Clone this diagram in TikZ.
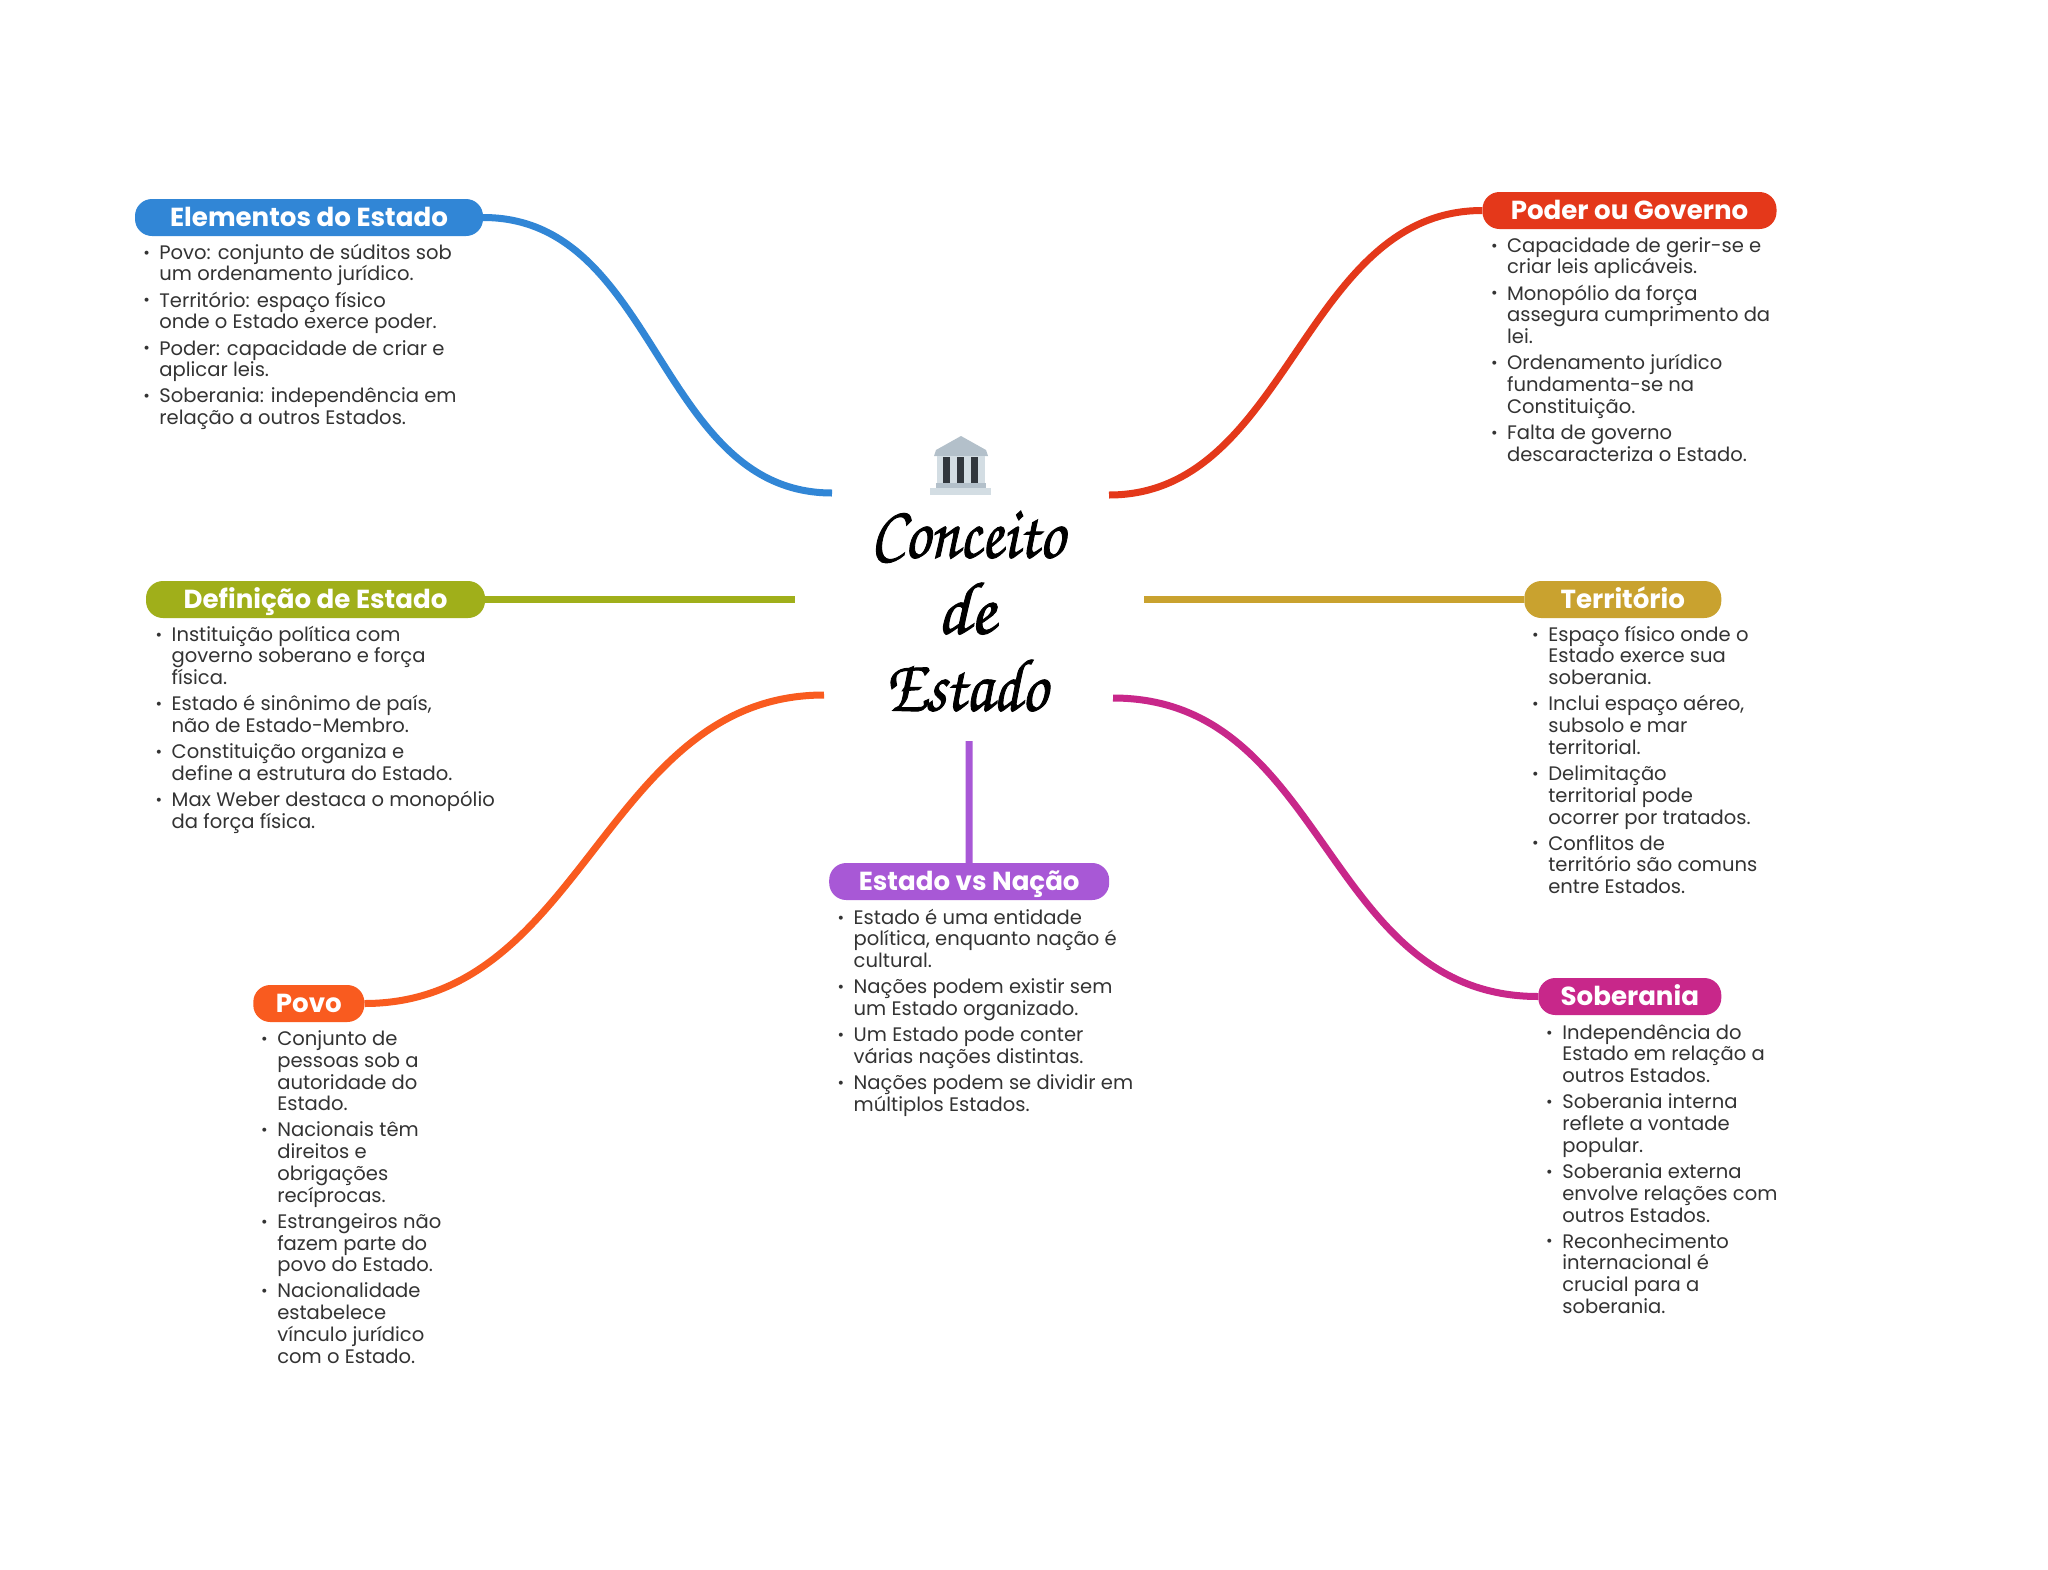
\documentclass[tikz,border=0pt]{standalone}
\usepackage{fontspec}
\setmainfont{Poppins}
\newfontfamily\scriptf[FakeBold=1.3]{TeX Gyre Chorus}
\definecolor{cBlue}{HTML}{3186D6}
\definecolor{cRed}{HTML}{E4381A}
\definecolor{cOlive}{HTML}{A0AF1A}
\definecolor{cGold}{HTML}{C9A22F}
\definecolor{cOrange}{HTML}{F95B1F}
\definecolor{cPurple}{HTML}{A858D6}
\definecolor{cMagenta}{HTML}{C8278A}
\definecolor{cText}{HTML}{333333}
\definecolor{cRoof}{HTML}{B3C0CA}
\definecolor{cStone}{HTML}{D3DDE3}
\definecolor{cCol}{HTML}{31373D}
\newcommand{\bul}{\makebox[15.7pt][l]{\hspace*{-0.4pt}\raisebox{1.2pt}{\fontsize{16}{16}\selectfont •}}}
\newcommand{\itm}[1]{\rule{0pt}{16pt}\bul#1}
\newcommand{\cnt}[1]{\hspace*{15.7pt}#1}
\newcommand{\gapp}{\\[4.4pt]}
\tikzset{x=1pt,y=-1pt,
  pill/.style={fill=#1,rounded corners=17pt,inner sep=0pt,minimum height=37pt,text=white,
    text height=21.3pt,text depth=3.1pt,
    font=\fontsize{26.1}{30}\selectfont\bfseries},
  blist/.style={anchor=north west,inner sep=0pt,align=left,text=cText,
    font=\fontsize{19.55}{21.75}\selectfont},
  link/.style={draw=#1,line width=7pt},
  titleline/.style={inner sep=0pt,anchor=base,font=\fontsize{75}{75}\selectfont\scriptf}}
\begin{document}
\begin{tikzpicture}
\useasboundingbox[fill=white] (0,0) rectangle (2048,1569);
% hub ends
\coordinate (hElem) at (832,493);
\coordinate (hPoder) at (1109,495);
\coordinate (hDefi) at (795,599.5);
\coordinate (hTerr) at (1144,599.5);
\coordinate (hPovo) at (824,695);
\coordinate (hSobe) at (1113,698);
\coordinate (hEvn) at (969,741);
% pills
\node[pill=cBlue,minimum width=348pt] (elem) at (309,217.5) {Elementos do Estado};
\node[pill=cRed,minimum width=294pt] (poder) at (1629.5,210.5) {Poder ou Governo};
\node[pill=cOlive,minimum width=339pt] (defi) at (315.5,599.5) {Definição de Estado};
\node[pill=cGold,minimum width=197pt] (terr) at (1622.8,599.5) {Território};
\node[pill=cOrange,minimum width=111pt] (povo) at (308.8,1003.5) {Povo};
\node[pill=cPurple,minimum width=280pt] (evn) at (969.2,881.5) {Estado vs Nação};
\node[pill=cMagenta,minimum width=183pt] (sobe) at (1629.8,996.5) {Soberania};
% connectors
\draw[link=cBlue] (elem.east) .. controls +(175,0) and +(-175,0) .. (hElem);
\draw[link=cRed] (poder.west) .. controls +(-180,0) and +(180,0) .. (hPoder);
\draw[link=cOlive] (defi.east) -- (hDefi);
\draw[link=cGold] (terr.west) -- (hTerr);
\draw[link=cOrange] (povo.east) .. controls +(220,0) and +(-220,0) .. (hPovo);
\draw[link=cMagenta] (sobe.west) .. controls +(-215,0) and +(215,0) .. (hSobe);
\draw[link=cPurple] (evn.north) -- (hEvn);
% central icon
\fill[cRoof] (961,436) -- (986,450) -- (988,456) -- (934,456) -- (936,450) -- cycle;
\fill[cStone] (937,456) rectangle (985,484);
\fill[cCol] (943,457) rectangle (950,483);
\fill[cCol] (957,457) rectangle (964,483);
\fill[cCol] (971,457) rectangle (978,483);
\fill[cRoof] (936,483) rectangle (986,488);
\fill[cStone] (930,488) rectangle (991,495);
% central title
\node[titleline] (t1) at (967.5,557.5) {\scalebox{0.855}[1]{Conceito}};
\node[titleline] (t2) at (966,633.5) {\scalebox{1}[1]{de}};
\node[titleline] (t3) at (966,710.5) {\scalebox{0.865}[1]{Estado}};
% lists
\node[blist] (lElem) at (143.5,243) {\itm{Povo: conjunto de súditos sob}\\
\cnt{um ordenamento jurídico.}\gapp
\itm{Território: espaço físico}\\
\cnt{onde o Estado exerce poder.}\gapp
\itm{Poder: capacidade de criar e}\\
\cnt{aplicar leis.}\gapp
\itm{Soberania: independência em}\\
\cnt{relação a outros Estados.}};
\node[blist] (lPoder) at (1491.2,236) {\itm{Capacidade de gerir-se e}\\
\cnt{criar leis aplicáveis.}\gapp
\itm{Monopólio da força}\\
\cnt{assegura cumprimento da}\\
\cnt{lei.}\gapp
\itm{Ordenamento jurídico}\\
\cnt{fundamenta-se na}\\
\cnt{Constituição.}\gapp
\itm{Falta de governo}\\
\cnt{descaracteriza o Estado.}};
\node[blist] (lDefi) at (155.8,625) {\itm{Instituição política com}\\
\cnt{governo soberano e força}\\
\cnt{física.}\gapp
\itm{Estado é sinônimo de país,}\\
\cnt{não de Estado-Membro.}\gapp
\itm{Constituição organiza e}\\
\cnt{define a estrutura do Estado.}\gapp
\itm{Max Weber destaca o monopólio}\\
\cnt{da força física.}};
\node[blist] (lTerr) at (1532.4,625) {\itm{Espaço físico onde o}\\
\cnt{Estado exerce sua}\\
\cnt{soberania.}\gapp
\itm{Inclui espaço aéreo,}\\
\cnt{subsolo e mar}\\
\cnt{territorial.}\gapp
\itm{Delimitação}\\
\cnt{territorial pode}\\
\cnt{ocorrer por tratados.}\gapp
\itm{Conflitos de}\\
\cnt{território são comuns}\\
\cnt{entre Estados.}};
\node[blist] (lPovo) at (261.4,1029.3) {\itm{Conjunto de}\\
\cnt{pessoas sob a}\\
\cnt{autoridade do}\\
\cnt{Estado.}\gapp
\itm{Nacionais têm}\\
\cnt{direitos e}\\
\cnt{obrigações}\\
\cnt{recíprocas.}\gapp
\itm{Estrangeiros não}\\
\cnt{fazem parte do}\\
\cnt{povo do Estado.}\gapp
\itm{Nacionalidade}\\
\cnt{estabelece}\\
\cnt{vínculo jurídico}\\
\cnt{com o Estado.}};
\node[blist] (lEvn) at (837.8,908) {\itm{Estado é uma entidade}\\
\cnt{política, enquanto nação é}\\
\cnt{cultural.}\gapp
\itm{Nações podem existir sem}\\
\cnt{um Estado organizado.}\gapp
\itm{Um Estado pode conter}\\
\cnt{várias nações distintas.}\gapp
\itm{Nações podem se dividir em}\\
\cnt{múltiplos Estados.}};
\node[blist] (lSobe) at (1546.4,1023) {\itm{Independência do}\\
\cnt{Estado em relação a}\\
\cnt{outros Estados.}\gapp
\itm{Soberania interna}\\
\cnt{reflete a vontade}\\
\cnt{popular.}\gapp
\itm{Soberania externa}\\
\cnt{envolve relações com}\\
\cnt{outros Estados.}\gapp
\itm{Reconhecimento}\\
\cnt{internacional é}\\
\cnt{crucial para a}\\
\cnt{soberania.}};
\end{tikzpicture}
\end{document}
